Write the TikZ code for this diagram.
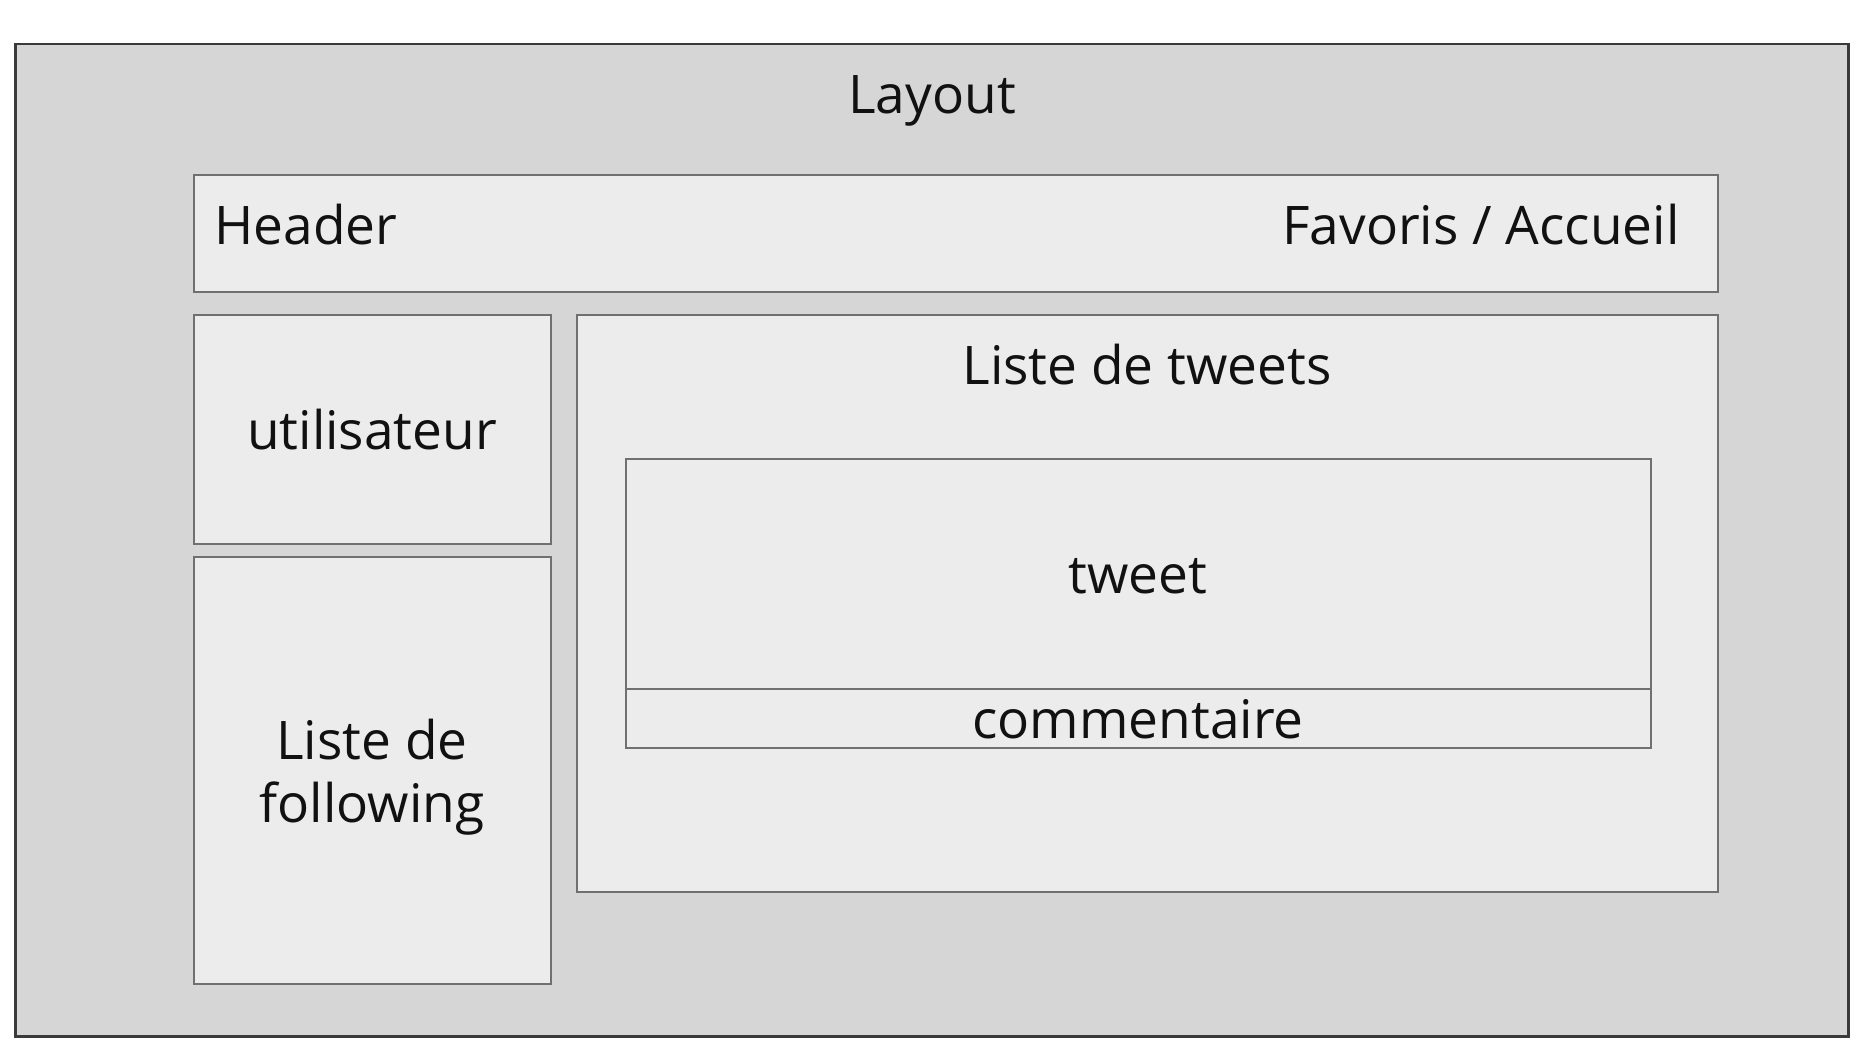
\documentclass[tikz,border=0pt]{standalone}
\usepackage{fontspec}
\setmainfont{Open Sans}
\definecolor{outerfill}{HTML}{D6D6D6}
\definecolor{innerfill}{HTML}{ECECEC}
\definecolor{outerline}{HTML}{3A3A3A}
\definecolor{innerline}{HTML}{707070}
\definecolor{txt}{HTML}{111111}
\begin{document}
\begin{tikzpicture}[x=0.5pt,y=-0.5pt,
  panel/.style={draw=innerline, fill=innerfill, line width=1pt, inner sep=0pt},
  frame/.style={draw=outerline, fill=outerfill, line width=1.2pt, inner sep=0pt},
  lbl/.style={text=txt, font=\fontsize{26.6}{30}\selectfont, inner sep=0pt},
]
\useasboundingbox (0,0) rectangle (1863,1058);
\fill[white] (0,0) rectangle (1863,1058);
% outer layout frame
\draw[frame] (15.5,44) rectangle (1848.5,1036.5);
\node[lbl, anchor=base] (layout) at (932,114) {Layout};
% header bar
\draw[panel] (194,175) rectangle (1718,292.5);
\node[lbl, anchor=base west] (header) at (214,245) {Header};
\node[lbl, anchor=base east] (nav) at (1680,245) {Favoris / Accueil};
% left column
\draw[panel] (194,315) rectangle (550.5,544.5);
\node[lbl, anchor=base] (user) at (372,450) {utilisateur};
\draw[panel] (194,557.5) rectangle (550.5,983.5);
\node[lbl, anchor=base] (following) at (372,759.5) {Liste de};
\node[lbl, anchor=base] (following2) at (372,822.5) {following};
% tweet list
\draw[panel] (576.5,315) rectangle (1718,891.5);
\node[lbl, anchor=base] (tweets) at (1147,385) {Liste de tweets};
\draw[panel] (625.5,459) rectangle (1651,688.5);
\node[lbl, anchor=base] (tweet) at (1138,594) {tweet};
\draw[panel] (625.5,688.5) rectangle (1651,748);
\node[lbl, anchor=base] (comment) at (1138,738) {commentaire};
\end{tikzpicture}
\end{document}
